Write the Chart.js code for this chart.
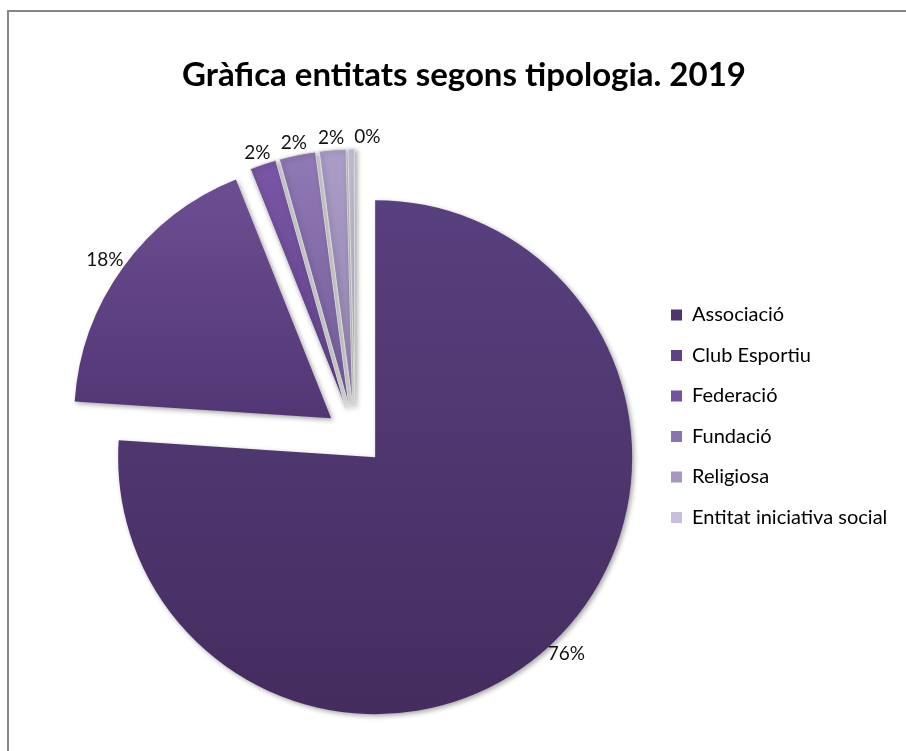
<!DOCTYPE html>
<html><head><meta charset="utf-8">
<script src="https://cdn.jsdelivr.net/npm/chart.js@4/dist/chart.umd.min.js"></script>
<style>html,body{margin:0;padding:0;background:#fff;}canvas{display:block;}</style>
</head><body>
<canvas id="c" width="906" height="751"></canvas>
<script>
// ---- data ----
const titleText = 'Gràfica entitats segons tipologia. 2019';
const categories = ['Associació', 'Club Esportiu', 'Federació', 'Fundació', 'Religiosa', 'Entitat iniciativa social'];
const values = [365, 86, 8, 11, 8, 2];

// ---- styles ----
const baseColors = ['#4e3571', '#5f4286', '#7452a0', '#8a73b1', '#a697c3', '#c8c0da'];
const gradTop    = ['#58407f', '#6d4e93', '#7a57a6', '#9079b5', '#ab9dc8', '#cbc3dc'];
const gradBottom = ['#452c5f', '#523674', '#603f88', '#735b99', '#9181ae', '#b4aac7'];
const explodeDist = [29.5, 29.5, 29.5, 29.5, 29.5, 29.5];

const framePlugin = {
  id: 'frame',
  beforeDraw(chart) {
    const c = chart.ctx;
    c.save();
    c.fillStyle = '#fff';
    c.fillRect(0, 0, chart.width, chart.height);
    c.fillStyle = '#868686';
    c.fillRect(7, 10, 2, chart.height - 10);
    c.fillRect(7, 10, chart.width - 7, 2);
    c.restore();
  }
};

// let legend text run past the legend's nominal box (to the canvas edge)
const legendWidenPlugin = {
  id: 'legendWiden',
  afterLayout(chart) {
    const lg = chart.legend;
    if (lg) { lg.right = chart.width; lg.width = lg.right - lg.left; }
  }
};

const shadowPlugin = {
  id: 'sliceShadow',
  beforeDatasetsDraw(chart) {
    const c = chart.ctx;
    c.save();
    c.shadowColor = 'rgba(0,0,0,0.35)';
    c.shadowBlur = 5;
    c.shadowOffsetX = 2;
    c.shadowOffsetY = 2;
  },
  afterDatasetsDraw(chart) { chart.ctx.restore(); }
};

const explodePlugin = {
  id: 'explodeSlices',
  afterDatasetsUpdate(chart) {
    const meta = chart.getDatasetMeta(0);
    meta.data.forEach((arc, i) => {
      const d = explodeDist[i] || 0;
      const mid = (arc.startAngle + arc.endAngle) / 2;
      arc.x += Math.cos(mid) * d;
      arc.y += Math.sin(mid) * d;
      const r = arc.outerRadius;
      let top = arc.y, bottom = arc.y;
      [arc.startAngle, arc.endAngle].forEach(a => {
        const y = arc.y + Math.sin(a) * r;
        top = Math.min(top, y); bottom = Math.max(bottom, y);
      });
      const inRange = a => {
        for (let k = -2; k <= 2; k++) {
          const t = a + k * 2 * Math.PI;
          if (t >= arc.startAngle && t <= arc.endAngle) return true;
        }
        return false;
      };
      if (inRange(-Math.PI / 2)) top = arc.y - r;
      if (inRange(Math.PI / 2)) bottom = arc.y + r;
      const g = chart.ctx.createLinearGradient(0, top, 0, bottom);
      g.addColorStop(0, gradTop[i]);
      g.addColorStop(1, gradBottom[i]);
      arc.options = Object.assign({}, arc.options, { backgroundColor: g });
    });
  }
};

const labelPlugin = {
  id: 'pctLabels',
  afterDatasetsDraw(chart) {
    const meta = chart.getDatasetMeta(0);
    const c = chart.ctx;
    const total = values.reduce((a, b) => a + b, 0);
    c.save();
    c.font = '19px Lato';
    c.fillStyle = '#111';
    c.textAlign = 'center';
    c.textBaseline = 'middle';
    const gap = 4, h = 16, padX = 5, padY = 3;
    const items = meta.data.map((arc, i) => {
      const text = Math.round(values[i] / total * 100) + '%';
      const mid = (arc.startAngle + arc.endAngle) / 2;
      const dx = Math.cos(mid), dy = Math.sin(mid);
      const w = c.measureText(text).width;
      const rr = arc.outerRadius + gap;
      return { text, w, x: arc.x + dx * rr + dx * w / 2, y: arc.y + dy * rr + dy * h / 2 };
    });
    for (let i = 1; i < items.length; i++) {
      const a = items[i - 1], b = items[i];
      const overlapY = Math.abs(a.y - b.y) < h + 2 * padY;
      const aRight = a.x + a.w / 2 + padX, bLeft = b.x - b.w / 2 - padX;
      if (overlapY && a.x <= b.x && aRight > bLeft) b.x += (aRight - bLeft);
    }
    items.forEach(it => c.fillText(it.text, it.x, it.y));
    c.restore();
  }
};

new Chart(document.getElementById('c'), {
  type: 'pie',
  data: {
    labels: categories,
    datasets: [{
      data: values,
      backgroundColor: baseColors,
      borderColor: '#dcdcdc',
      borderWidth: [0, 0, 1, 1, 1, 1],
      radius: 257,
      clip: false
    }]
  },
  options: {
    responsive: false,
    devicePixelRatio: 1,
    animation: false,
    events: [],
    layout: { padding: { left: 59.5, right: 37.5, top: 0, bottom: 43.8 } },
    plugins: {
      title: {
        display: true,
        text: titleText,
        color: '#000',
        font: { family: 'Lato', size: 33, weight: 'bold', lineHeight: 1.2 },
        padding: { top: 55.2, bottom: 69.2 }
      },
      legend: {
        position: 'right',
        align: 'start',
        fullSize: false,
        maxWidth: 218,
        title: { display: true, text: ' ', font: { family: 'Lato', size: 12, lineHeight: 1.2 }, padding: { top: 106.1, bottom: 0 } },
        labels: {
          boxWidth: 11,
          boxHeight: 11,
          padding: 20.5,
          color: '#000',
          font: { family: 'Lato', size: 20 },
          generateLabels(chart) {
            const items = Chart.overrides.pie.plugins.legend.labels.generateLabels(chart);
            items.forEach(it => { it.lineWidth = 0; });
            return items;
          }
        }
      },
      tooltip: { enabled: false }
    }
  },
  plugins: [framePlugin, legendWidenPlugin, shadowPlugin, explodePlugin, labelPlugin]
});
</script>
</body></html>
